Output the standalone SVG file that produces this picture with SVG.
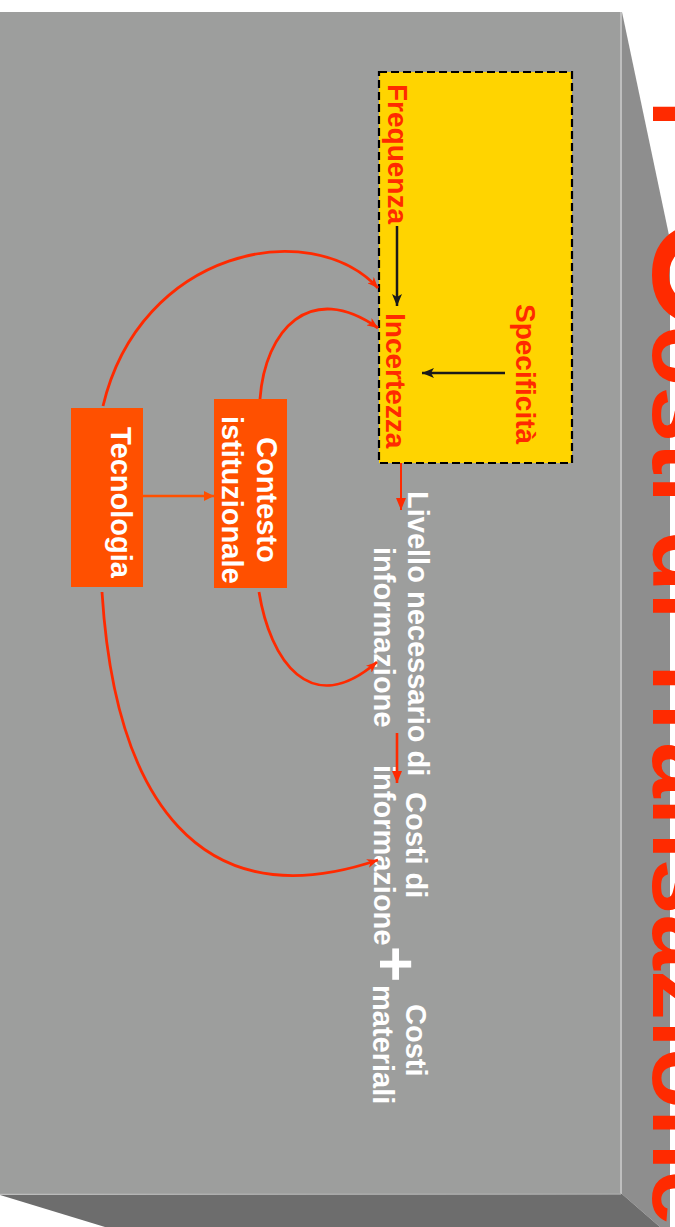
<svg xmlns="http://www.w3.org/2000/svg" width="675" height="1227" viewBox="0 0 675 1227">
<style>
text{font-family:"Liberation Sans",Arial,sans-serif;font-weight:bold}
.red{fill:#ff2a00}
.wh{fill:#ffffff}
.box{fill:#ff5000}
.curve{fill:none;stroke:#ff2a00;stroke-width:2.8}
</style>
<defs>
<marker id="ab" viewBox="0 0 12 10" refX="12" refY="5" markerWidth="12" markerHeight="10" orient="auto" markerUnits="userSpaceOnUse"><path d="M0,0 L12,5 L0,10 L3,5 z" fill="#1a1a1a"/></marker>
<marker id="ar" viewBox="0 0 12 10" refX="12" refY="5" markerWidth="12" markerHeight="10" orient="auto" markerUnits="userSpaceOnUse"><path d="M0,0 L12,5 L0,10 z" fill="#ff2a00"/></marker>
<marker id="ac" viewBox="0 0 11 9" refX="11" refY="4.5" markerWidth="11" markerHeight="9" orient="auto" markerUnits="userSpaceOnUse"><path d="M0,0 L11,4.5 L0,9 L3,4.5 z" fill="#ff2a00"/></marker>
<marker id="ao" viewBox="0 0 10 10" refX="10" refY="5" markerWidth="10" markerHeight="10" orient="auto" markerUnits="userSpaceOnUse"><path d="M0,0 L10,5 L0,10 z" fill="#ff5000"/></marker>
</defs>
<rect width="675" height="1227" fill="#ffffff"/>
<g id="slide">
<rect x="0" y="12" width="622" height="1182" fill="#9d9e9d"/>
<polygon points="622,12 670,240 670,1227 660,1227 622,1194" fill="#8e8e8e"/>
<polygon points="0,1195 622,1194 660,1227 105,1227" fill="#6d6d6d"/>
<line x1="621" y1="12" x2="621" y2="1194" stroke="#bfbfbf" stroke-width="2"/>
<line x1="0" y1="1194" x2="621" y2="1194" stroke="#a9a9a9" stroke-width="1.5"/>
</g>
<g id="title">
<text transform="translate(653,100) rotate(90)" class="red" font-size="100">I<tspan x="117" font-size="150">C</tspan>osti di Transazione</text>
</g>
<g id="attributi">
<rect x="379" y="72" width="193" height="391" fill="#ffd400" stroke="#000000" stroke-width="2.2" stroke-dasharray="8,4"/>
</g>
<g id="frequenza"><text transform="translate(388,84) rotate(90)" class="red" font-size="28">Frequenza</text></g>
<g id="incertezza"><text transform="translate(386,313) rotate(90)" class="red" font-size="28">Incertezza</text></g>
<g id="specificita"><text transform="translate(516,304) rotate(90)" class="red" font-size="28">Specificità</text></g>
<g id="contesto">
<rect x="214" y="399" width="73" height="189" class="box"/>
<text transform="translate(257,437) rotate(90)" class="wh" font-size="29">Contesto</text>
<text transform="translate(222,416) rotate(90)" class="wh" font-size="29">istituzionale</text>
</g>
<g id="tecnologia">
<rect x="71" y="408" width="72" height="179" class="box"/>
<text transform="translate(111,427) rotate(90)" class="wh" font-size="29">Tecnologia</text>
</g>
<g id="livello">
<text transform="translate(408,491) rotate(90)" class="wh" font-size="29">Livello necessario di</text>
<text transform="translate(374,547) rotate(90)" class="wh" font-size="29">informazione</text>
</g>
<g id="costi-informazione">
<text transform="translate(406,792) rotate(90)" class="wh" font-size="29">Costi di</text>
<text transform="translate(374,765) rotate(90)" class="wh" font-size="29">informazione</text>
</g>
<g id="piu"><text transform="translate(375,946) rotate(90)" class="wh" font-size="62">+</text></g>
<g id="costi-materiali">
<text transform="translate(406,1004) rotate(90)" class="wh" font-size="29">Costi</text>
<text transform="translate(373,985) rotate(90)" class="wh" font-size="29">materiali</text>
</g>
<g id="connectors">
<line x1="397" y1="226" x2="397" y2="306" stroke="#1a1a1a" stroke-width="2.5" marker-end="url(#ab)"/>
<line x1="505" y1="373" x2="422" y2="373" stroke="#1a1a1a" stroke-width="2.5" marker-end="url(#ab)"/>
<line x1="401" y1="463" x2="401" y2="510" stroke="#ff2a00" stroke-width="2" marker-end="url(#ar)"/>
<line x1="397" y1="733" x2="397" y2="783" stroke="#ff2a00" stroke-width="2.6" marker-end="url(#ar)"/>
<line x1="143" y1="496" x2="214" y2="496" stroke="#ff5000" stroke-width="2.5" marker-end="url(#ao)"/>
<path class="curve" d="M103,406 C140,250 310,215 378,288" marker-end="url(#ac)"/>
<path class="curve" d="M260,399 C265,330 310,280 378,328" marker-end="url(#ac)"/>
<path class="curve" d="M259,592 C270,660 310,720 377,662" marker-end="url(#ac)"/>
<path class="curve" d="M102,592 C115,800 200,920 378,860" marker-end="url(#ac)"/>
</g>
</svg>
